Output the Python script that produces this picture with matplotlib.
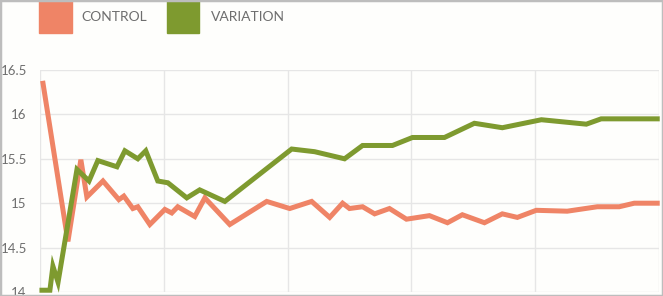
import matplotlib
matplotlib.use("Agg")
import matplotlib.pyplot as plt
from matplotlib.patches import Rectangle

# days since start
control_x = [0.17, 1.58, 2.31, 2.65, 3.56, 4.46, 4.74, 5.25, 5.53, 6.21, 7.06, 7.45,
             7.79, 8.75, 9.32, 10.73, 12.82, 14.12, 15.36, 16.38, 17.11, 17.50, 18.24,
             18.92, 19.76, 20.72, 22.02, 23.04, 23.88, 25.13, 26.14, 26.99, 28.06,
             29.81, 31.51, 32.75, 33.60, 34.90]
control_y = [16.35, 14.57, 15.49, 15.07, 15.25, 15.04, 15.08, 14.94, 14.96, 14.76, 14.93, 14.89,
             14.96, 14.85, 15.06, 14.76, 15.02, 14.94, 15.02, 14.84, 15.00, 14.94, 14.96,
             14.88, 14.94, 14.82, 14.86, 14.78, 14.87, 14.78, 14.88, 14.84, 14.92,
             14.91, 14.96, 14.96, 15.00, 15.00]

variation_x = [0.11, 0.56, 0.73, 1.02, 2.09, 2.77, 3.27, 4.35, 4.80, 5.53, 5.98, 6.66,
               7.23, 8.30, 9.03, 10.45, 14.23, 15.53, 17.22, 18.24, 19.93, 21.06, 22.87,
               24.56, 26.14, 28.35, 30.89, 31.73, 34.90]
variation_y = [14.02, 14.02, 14.29, 14.11, 15.38, 15.25, 15.48, 15.41, 15.59, 15.50, 15.59, 15.25,
               15.23, 15.06, 15.15, 15.02, 15.61, 15.58, 15.50, 15.65, 15.65, 15.74, 15.74,
               15.90, 15.85, 15.94, 15.89, 15.95, 15.95]

y_ticks = [14, 14.5, 15, 15.5, 16, 16.5]
y_labels = ["14", "14.5", "15", "15.5", "16", "16.5"]
x_grid = [0, 7, 14, 21, 28, 35]

orange = "#EF8466"
green = "#7E9A2F"
txt = "#6E6E6E"

W, H = 663, 296
fig = plt.figure(figsize=(W / 100, H / 100), dpi=100)
fig.patch.set_facecolor("#FEFEFC")

ax = fig.add_axes([40 / W, 4 / H, 619 / W, 222 / H])
ax.set_facecolor("none")
ax.plot(control_x, control_y, color=orange, lw=3.6, solid_joinstyle="miter", clip_on=False, zorder=3)
ax.plot(variation_x, variation_y, color=green, lw=3.6, solid_joinstyle="miter", clip_on=False, zorder=4)

ax.set_xlim(0, 35)
ax.set_ylim(14, 16.5)
ax.set_yticks(y_ticks)
ax.set_yticklabels(y_labels)
ax.set_xticks(x_grid)
ax.tick_params(axis="x", bottom=False, labelbottom=False)
ax.tick_params(axis="y", left=False, pad=6, labelsize=9.5, labelcolor=txt)
for lab in ax.get_yticklabels():
    lab.set_fontfamily("Lato")
ax.grid(True, color="#E6E6E6", lw=1)
for s in ax.spines.values():
    s.set_visible(False)

# legend
fig.patches.append(Rectangle((39 / W, 1 - 33 / H), 33 / W, 33 / H, transform=fig.transFigure,
                             color=orange, zorder=5))
fig.patches.append(Rectangle((167 / W, 1 - 33 / H), 32 / W, 33 / H, transform=fig.transFigure,
                             color=green, zorder=5))
fig.text(81 / W, 1 - 17 / H, "CONTROL", color=txt, fontsize=10, family="Lato", va="center", ha="left")
fig.text(211 / W, 1 - 17 / H, "VARIATION", color=txt, fontsize=10, family="Lato", va="center", ha="left")

# frame around the screenshot
fig.patches.append(Rectangle((0, 0), 1, 1, transform=fig.transFigure, fill=False,
                             edgecolor="#BDBDBD", lw=2.5, zorder=10))

fig.savefig("out.png", dpi=100, facecolor=fig.get_facecolor())
